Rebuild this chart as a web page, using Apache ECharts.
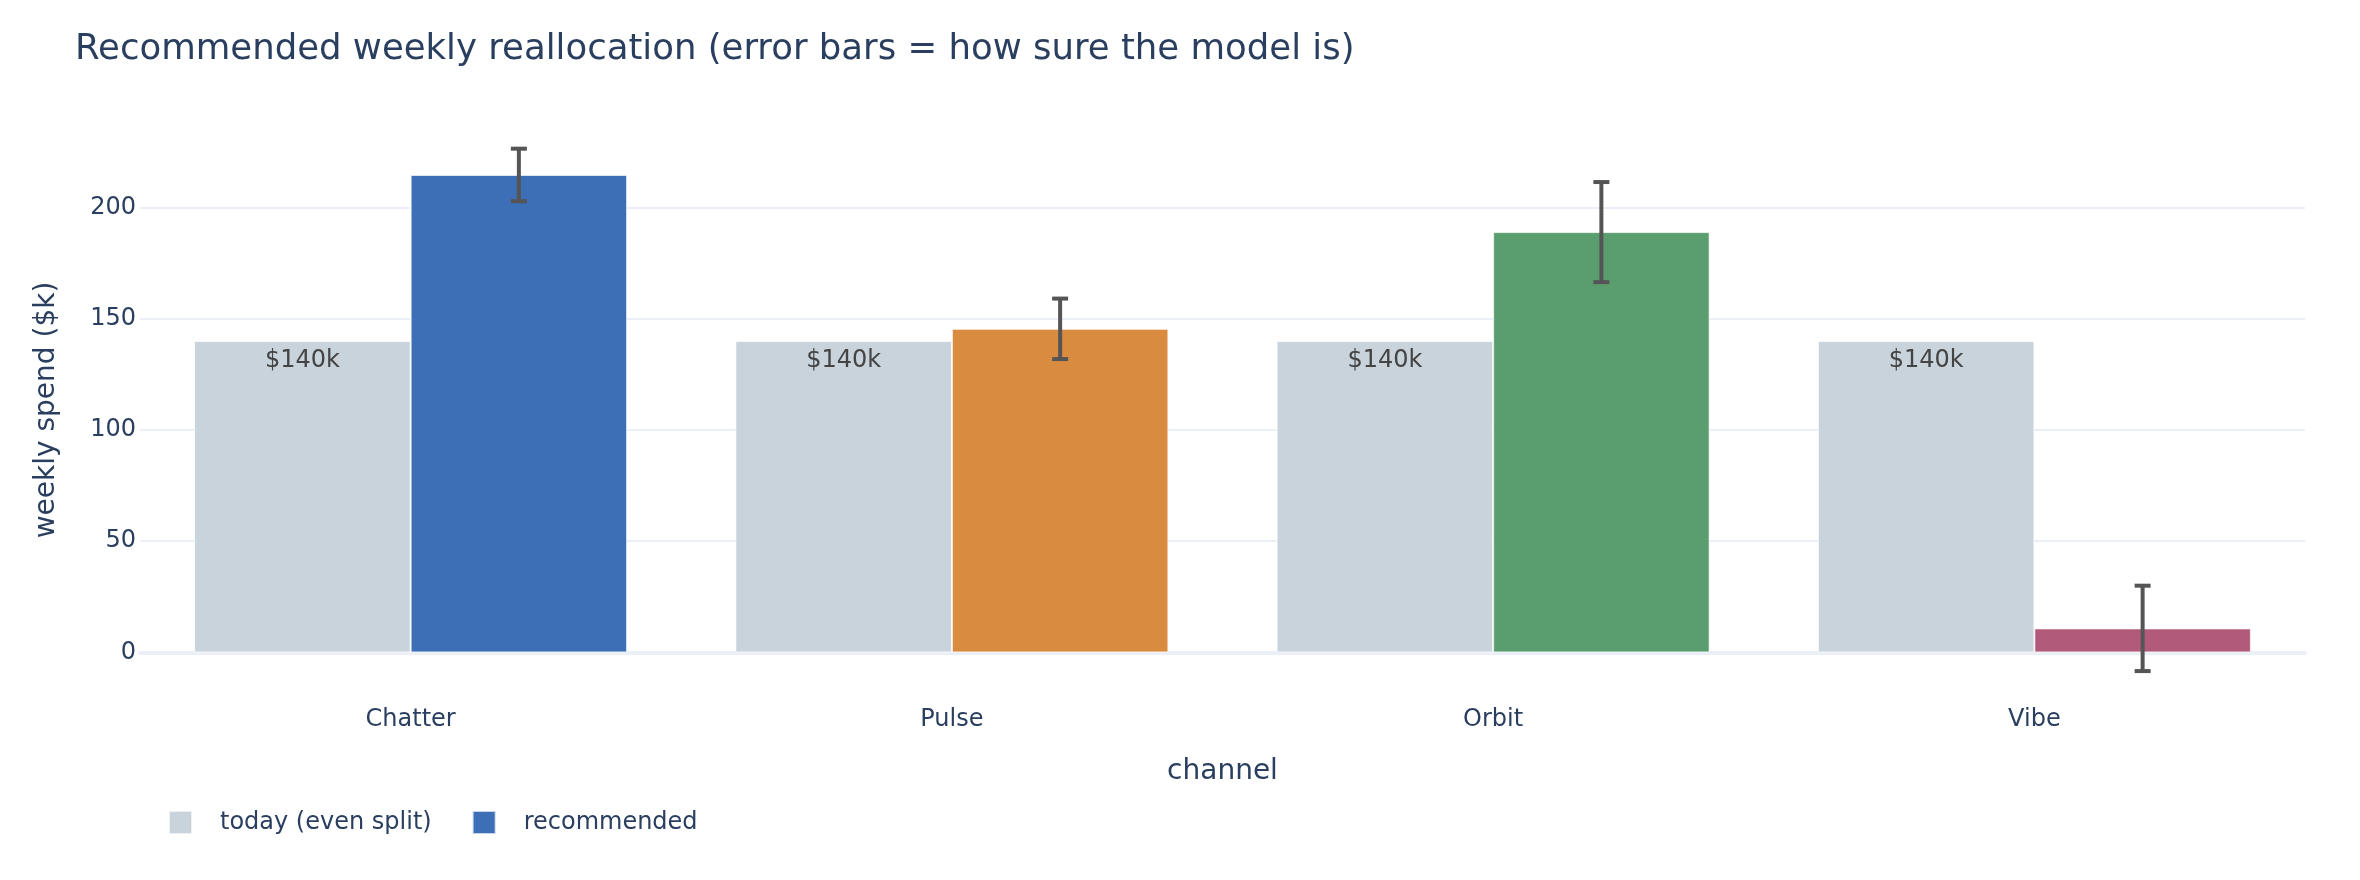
<!DOCTYPE html>
<html>
<head>
<meta charset="utf-8">
<script src="https://cdn.jsdelivr.net/npm/echarts@6/dist/echarts.min.js"></script>
<style>
  html, body { margin: 0; padding: 0; background: #fff; }
  #chart { width: 2360px; height: 880px; }
</style>
</head>
<body>
<div id="chart"></div>
<script>
// channels and spend ($k)
var channels = ['Chatter', 'Pulse', 'Orbit', 'Vibe'];
var today = [140, 140, 140, 140];
var recommended = [214.7, 145.5, 189.0, 10.8];
var errors = [11.8, 13.6, 22.5, 19.2];
var recColors = ['#3C6FB6', '#D98B40', '#5A9E6F', '#B25A7A'];

var textColor = '#2a3f5f';
var fontFamily = '"DejaVu Sans", Verdana, sans-serif';

var chart = echarts.init(document.getElementById('chart'));

// error bars: [index, low, high]
var errData = recommended.map(function (v, i) {
  return [i, v - errors[i], v + errors[i]];
});

function renderError(params, api) {
  var idx = api.value(0);
  var band = api.size([1, 0])[0];
  var x = api.coord([idx, 0])[0] + band * 0.2; // centre of 2nd bar in group
  var yLo = api.coord([idx, api.value(1)])[1];
  var yHi = api.coord([idx, api.value(2)])[1];
  var half = 8;
  var style = { stroke: '#555', lineWidth: 4 };
  return {
    type: 'group',
    children: [
      { type: 'line', shape: { x1: x, y1: yLo, x2: x, y2: yHi }, style: style },
      { type: 'line', shape: { x1: x - half, y1: yHi, x2: x + half, y2: yHi }, style: style },
      { type: 'line', shape: { x1: x - half, y1: yLo, x2: x + half, y2: yLo }, style: style }
    ]
  };
}

var option = {
  animation: false,
  backgroundColor: '#fff',
  textStyle: { fontFamily: fontFamily },
  title: {
    text: 'Recommended weekly reallocation (error bars = how sure the model is)',
    left: 75,
    top: 32,
    padding: 0,
    textStyle: { fontSize: 35.5, fontWeight: 'normal', color: textColor, fontFamily: fontFamily }
  },
  legend: {
    data: ['today (even split)', 'recommended'],
    left: 168,
    top: 810,
    padding: 0,
    icon: 'rect',
    itemWidth: 23,
    itemHeight: 23,
    itemGap: 40,
    textStyle: { fontSize: 24, color: textColor, fontFamily: fontFamily, padding: [0, 0, 0, 23] }
  },
  grid: { left: 140, right: 55, top: 120, bottom: 180, containLabel: false },
  xAxis: {
    type: 'category',
    data: channels,
    name: 'channel',
    nameLocation: 'middle',
    nameGap: 58,
    nameTextStyle: { fontSize: 28, color: textColor, fontFamily: fontFamily },
    axisLine: { show: true, onZero: true, lineStyle: { color: '#EBF0F8', width: 4 } },
    axisTick: { show: false },
    axisLabel: { fontSize: 24, color: textColor, margin: 8, fontFamily: fontFamily },
    splitLine: { show: false }
  },
  yAxis: {
    type: 'value',
    min: -21.4,
    max: 239.4,
    splitNumber: 5,
    name: 'weekly spend ($k)',
    nameLocation: 'middle',
    nameGap: 79,
    nameTextStyle: { fontSize: 28, color: textColor, fontFamily: fontFamily },
    axisLine: { show: false },
    axisTick: { show: false },
    axisLabel: {
      fontSize: 24,
      color: textColor,
      margin: 4,
      fontFamily: fontFamily,
      showMinLabel: false,
      showMaxLabel: false,
      formatter: function (v) { return Math.abs(v % 50) < 1e-6 ? String(v) : ''; }
    },
    splitLine: { show: true, showMinLine: false, showMaxLine: false, lineStyle: { color: '#EBF0F8', width: 2 } }
  },
  series: [
    {
      name: 'today (even split)',
      type: 'bar',
      data: today,
      barCategoryGap: '20%',
      barGap: '0%',
      itemStyle: { color: '#C8D3DC', borderColor: 'rgba(255,255,255,0.7)', borderWidth: 1 },
      label: {
        show: true,
        position: 'insideTop',
        distance: 8,
        fontSize: 24,
        color: '#444',
        fontFamily: fontFamily,
        formatter: function (p) { return '$' + p.value + 'k'; }
      }
    },
    {
      name: 'recommended',
      type: 'bar',
      barCategoryGap: '20%',
      barGap: '0%',
      itemStyle: { color: recColors[0], borderColor: 'rgba(255,255,255,0.7)', borderWidth: 1 },
      data: recommended.map(function (v, i) {
        return { value: v, itemStyle: { color: recColors[i] } };
      })
    },
    {
      name: 'error',
      type: 'custom',
      renderItem: renderError,
      data: errData,
      encode: { x: 0, y: [1, 2] },
      z: 10,
      silent: true
    }
  ]
};

chart.setOption(option);
</script>
</body>
</html>
